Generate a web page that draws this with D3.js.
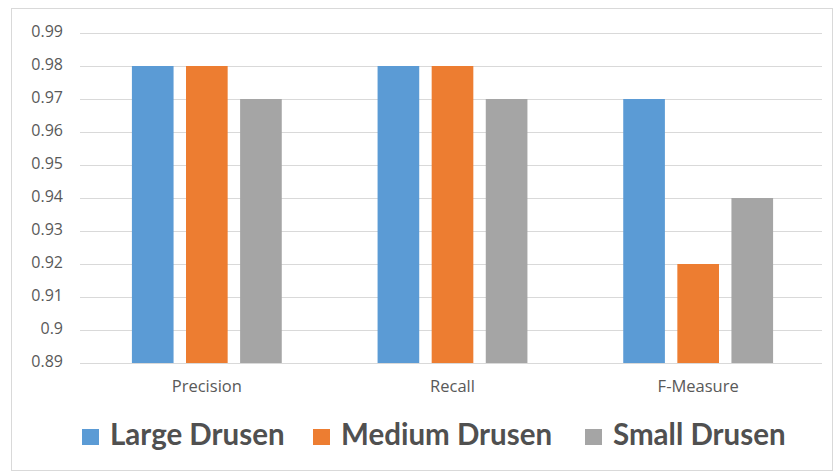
<!DOCTYPE html>
<html>
<head>
<meta charset="utf-8">
<script src="https://cdn.jsdelivr.net/npm/d3@7"></script>
<style>
  body { margin: 0; background: #fff; }
  text { font-family: "Open Sans", Lato, sans-serif; }
</style>
</head>
<body>
<div id="canvas"></div>
<script>
"use strict"

/* Chart data */
let categories = ["Precision", "Recall", "F-Measure"];
let seriesNames = ["Large Drusen", "Medium Drusen", "Small Drusen"];
let largeValues = [0.98, 0.98, 0.97];
let mediumValues = [0.98, 0.98, 0.92];
let smallValues = [0.97, 0.97, 0.94];
let yTicks = [0.89, 0.90, 0.91, 0.92, 0.93, 0.94, 0.95, 0.96, 0.97, 0.98, 0.99];
let colors = ["#5b9bd5", "#ed7d31", "#a5a5a5"];

let seriesValues = [largeValues, mediumValues, smallValues];

/* Drawing config */
let svgWidth = 834;
let svgHeight = 472;
let gridLeft = 80;
let gridRight = 822;

let svg = d3.select("#canvas")
    .append("svg")
    .attr("width", svgWidth)
    .attr("height", svgHeight);

// outer chart border
svg.append("rect")
    .attr("x", 11.5)
    .attr("y", 8.5)
    .attr("width", 832 - 11)
    .attr("height", 470 - 8)
    .attr("fill", "#fff")
    .attr("stroke", "#d9d9d9");

let yScale = d3.scaleLinear()
    .domain([0.89, 0.99])
    .range([363, 33]);

let x0 = d3.scaleBand()
    .domain(categories)
    .range([84, 821])
    .paddingInner(0.39)
    .paddingOuter(0.195);

let x1 = d3.scaleBand()
    .domain(seriesNames)
    .range([0, x0.bandwidth()])
    .paddingInner(0.23);

// gridlines
svg.selectAll(".grid")
    .data(yTicks)
    .join("line")
    .attr("class", "grid")
    .attr("x1", gridLeft)
    .attr("x2", gridRight)
    .attr("y1", d => Math.round(yScale(d)) + 0.5)
    .attr("y2", d => Math.round(yScale(d)) + 0.5)
    .attr("stroke", "#d9d9d9")
    .attr("stroke-width", 1);

// y tick labels
svg.selectAll(".yTickLabels")
    .data(yTicks)
    .join("text")
    .attr("x", 63)
    .attr("y", d => yScale(d))
    .attr("text-anchor", "end")
    .attr("dominant-baseline", "middle")
    .style("font-size", "16px")
    .style("fill", "#595959")
    .text(d => d3.format(".2~f")(d));

// bars
seriesNames.forEach(function(name, si) {
    svg.selectAll(".bar" + si)
        .data(seriesValues[si])
        .join("rect")
        .attr("class", "bar" + si)
        .attr("x", (d, i) => x0(categories[i]) + x1(name))
        .attr("y", d => yScale(d))
        .attr("width", x1.bandwidth())
        .attr("height", d => yScale(0.89) - yScale(d))
        .attr("fill", colors[si]);
});

// category labels
svg.selectAll(".catLabels")
    .data(categories)
    .join("text")
    .attr("x", d => x0(d) + x0.bandwidth() / 2)
    .attr("y", 388)
    .attr("text-anchor", "middle")
    .attr("dominant-baseline", "middle")
    .style("font-size", "16.5px")
    .style("fill", "#595959")
    .text(d => d);

// legend
let legendX = [82, 313, 585];
seriesNames.forEach(function(name, si) {
    let g = svg.append("g")
        .attr("transform", "translate(" + legendX[si] + ",437)");
    g.append("rect")
        .attr("x", 0)
        .attr("y", -8)
        .attr("width", 17)
        .attr("height", 16)
        .attr("fill", colors[si]);
    g.append("text")
        .attr("x", 28)
        .attr("y", 0)
        .attr("dominant-baseline", "middle")
        .style("font-family", "Lato, sans-serif")
        .style("font-size", "29.5px")
        .style("font-weight", "bold")
        .style("fill", "#505050")
        .text(name);
});
</script>
</body>
</html>
